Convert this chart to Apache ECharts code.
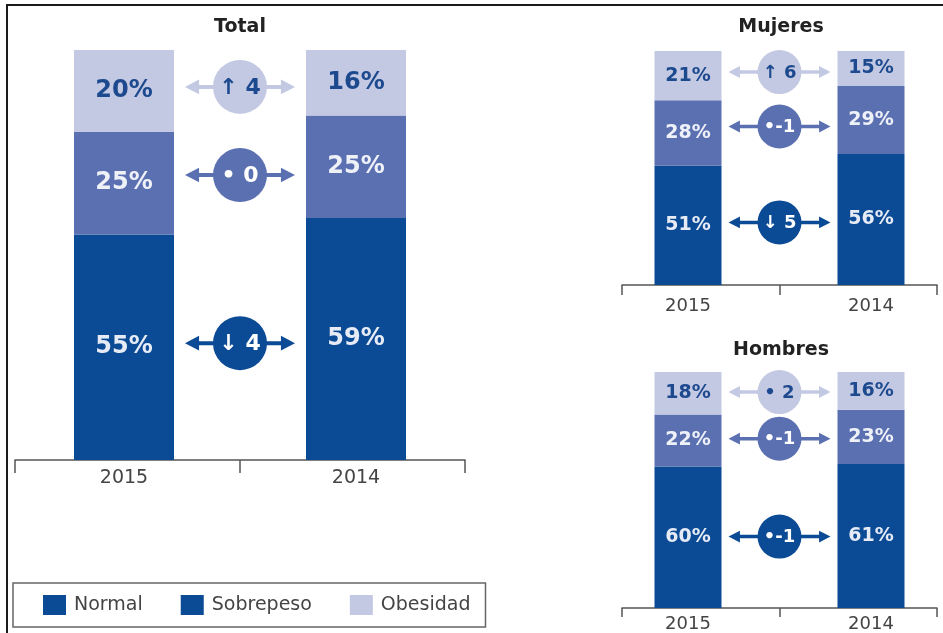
<!DOCTYPE html>
<html>
<head>
<meta charset="utf-8">
<script src="https://cdn.jsdelivr.net/npm/echarts@6/dist/echarts.min.js"></script>
<style>
  html, body { margin: 0; padding: 0; background: #fff; }
  #chart { width: 943px; height: 633px; }
</style>
</head>
<body>
<div id="chart"></div>
<script>
// datos (porcentajes, de abajo hacia arriba: Normal, Sobrepeso, Obesidad)
const years = ['2015', '2014'];
const segmentNames = ['Normal', 'Sobrepeso', 'Obesidad'];

const totalNormal = [55, 59];
const totalSobrepeso = [25, 25];
const totalObesidad = [20, 16];
const totalChange = ['↓ 4', '• 0', '↑ 4'];

const mujeresNormal = [51, 56];
const mujeresSobrepeso = [28, 29];
const mujeresObesidad = [21, 15];
const mujeresChange = ['↓ 5', '•-1', '↑ 6'];

const hombresNormal = [60, 61];
const hombresSobrepeso = [22, 23];
const hombresObesidad = [18, 16];
const hombresChange = ['•-1', '•-1', '• 2'];

const colors = ['#0b4a94', '#5b70b1', '#c3c9e3'];
const valueColors = ['#e6ebf6', '#eef1f8', '#1d4a8e'];
const changeColors = ['#ffffff', '#ffffff', '#1d4a8e'];
const FONT = 'DejaVu Sans';

// bars: grid cuyos bordes coinciden con el centro de cada barra
// axis: grid de la linea base con sus marcas
const panels = [
  {
    title: 'Total', titleX: 240, titleY: 27,
    values: [totalNormal, totalSobrepeso, totalObesidad], change: totalChange,
    bars: { left: 124, width: 232, top: 50, height: 410 },
    axis: { left: 15, width: 450, top: 50, height: 410 },
    barWidth: 100, labelSize: 24, yearSize: 19, yearMargin: 9, tickLen: 13,
    radius: 27, changeSize: 22, arrowGap: 11, lineWidth: 4
  },
  {
    title: 'Mujeres', titleX: 781, titleY: 27,
    values: [mujeresNormal, mujeresSobrepeso, mujeresObesidad], change: mujeresChange,
    bars: { left: 688, width: 183, top: 51, height: 234 },
    axis: { left: 622, width: 315, top: 51, height: 234 },
    barWidth: 67, labelSize: 19, yearSize: 18, yearMargin: 12, tickLen: 10,
    radius: 22, changeSize: 18, arrowGap: 7, lineWidth: 3.5
  },
  {
    title: 'Hombres', titleX: 781, titleY: 350,
    values: [hombresNormal, hombresSobrepeso, hombresObesidad], change: hombresChange,
    bars: { left: 688, width: 183, top: 372, height: 236 },
    axis: { left: 622, width: 315, top: 372, height: 236 },
    barWidth: 67, labelSize: 19, yearSize: 18, yearMargin: 7, tickLen: 9,
    radius: 22, changeSize: 18, arrowGap: 7, lineWidth: 3.5
  }
];

const grid = [];
const xAxis = [];
const yAxis = [];
const series = [];
const graphic = [];

panels.forEach((p, i) => {
  const gBars = i * 2;
  const gAxis = i * 2 + 1;
  grid.push(p.bars, p.axis);

  // eje de las barras: solo etiquetas de año
  xAxis.push({
    type: 'category', gridIndex: gBars, data: years, boundaryGap: false,
    axisLine: { show: false }, axisTick: { show: false }, splitLine: { show: false },
    axisLabel: { fontFamily: FONT, fontSize: p.yearSize, color: '#444', margin: p.yearMargin }
  });
  // eje visible: linea y marcas
  xAxis.push({
    type: 'category', gridIndex: gAxis, data: years,
    axisLine: { lineStyle: { color: '#555', width: 1.5 } },
    axisTick: { show: true, length: p.tickLen, lineStyle: { color: '#555', width: 1.5 } },
    axisLabel: { show: false }
  });
  yAxis.push(
    { type: 'value', gridIndex: gBars, min: 0, max: 100, show: false },
    { type: 'value', gridIndex: gAxis, min: 0, max: 100, show: false }
  );

  segmentNames.forEach((name, k) => {
    series.push({
      name: name, type: 'bar', stack: 'p' + i,
      xAxisIndex: gBars, yAxisIndex: gBars,
      barWidth: p.barWidth, clip: false,
      data: p.values[k],
      itemStyle: { color: colors[k] },
      label: {
        show: true, position: 'inside', formatter: '{c}%',
        fontFamily: FONT, fontWeight: 'bold', fontSize: p.labelSize, color: valueColors[k]
      }
    });
  });

  // flechas de variacion: altura media de los centros de cada segmento
  const changeData = segmentNames.map((name, k) => {
    let sum = 0;
    years.forEach((y, j) => {
      let base = 0;
      for (let m = 0; m < k; m++) base += p.values[m][j];
      sum += base + p.values[k][j] / 2;
    });
    return [0, sum / years.length, k];
  });

  series.push({
    type: 'custom', xAxisIndex: gBars, yAxisIndex: gBars,
    data: changeData,
    encode: { x: 0, y: 1 },
    clip: false,
    z: 5,
    renderItem: (params, api) => {
      const v = api.value(1);
      const k = api.value(2);
      const a = api.coord([0, v]);
      const b = api.coord([1, v]);
      const cx = (a[0] + b[0]) / 2;
      const cy = a[1];
      const x0 = a[0] + p.barWidth / 2 + p.arrowGap;
      const x1 = b[0] - p.barWidth / 2 - p.arrowGap;
      const ah = p.radius * 0.52;
      const aw = p.radius * 0.27;
      const c = colors[k];
      return {
        type: 'group',
        children: [
          { type: 'line', shape: { x1: x0 + ah - 2, y1: cy, x2: x1 - ah + 2, y2: cy },
            style: { stroke: c, lineWidth: p.lineWidth } },
          { type: 'polygon', shape: { points: [[x0, cy], [x0 + ah, cy - aw], [x0 + ah, cy + aw]] },
            style: { fill: c } },
          { type: 'polygon', shape: { points: [[x1, cy], [x1 - ah, cy - aw], [x1 - ah, cy + aw]] },
            style: { fill: c } },
          { type: 'circle', shape: { cx: cx, cy: cy, r: p.radius }, style: { fill: c } },
          { type: 'text', x: cx, y: cy + 1,
            style: { text: p.change[params.dataIndex], align: 'center', verticalAlign: 'middle',
              fill: changeColors[k], font: 'bold ' + p.changeSize + 'px ' + FONT } }
        ]
      };
    }
  });

  graphic.push({
    type: 'text', x: p.titleX, y: p.titleY,
    style: { text: p.title, align: 'center', verticalAlign: 'middle',
      fill: '#222', font: 'bold 19px ' + FONT }
  });
});

// marco
graphic.push({
  type: 'polyline',
  shape: { points: [[7, 633], [7, 5], [943, 5]] },
  style: { stroke: '#1a1a1a', lineWidth: 2, fill: null }
});

const chart = echarts.init(document.getElementById('chart'));
chart.setOption({
  animation: false,
  grid: grid,
  xAxis: xAxis,
  yAxis: yAxis,
  legend: {
    left: 13, top: 583,
    icon: 'rect',
    data: [
      { name: 'Normal' },
      { name: 'Sobrepeso', itemStyle: { color: colors[0] } },
      { name: 'Obesidad' }
    ],
    padding: [12, 15, 12, 30],
    itemWidth: 23, itemHeight: 20, itemGap: 38,
    borderColor: '#666', borderWidth: 1.5,
    textStyle: { fontFamily: FONT, fontSize: 19, color: '#444', padding: [0, 0, 0, 3] }
  },
  graphic: graphic,
  series: series
});
</script>
</body>
</html>
